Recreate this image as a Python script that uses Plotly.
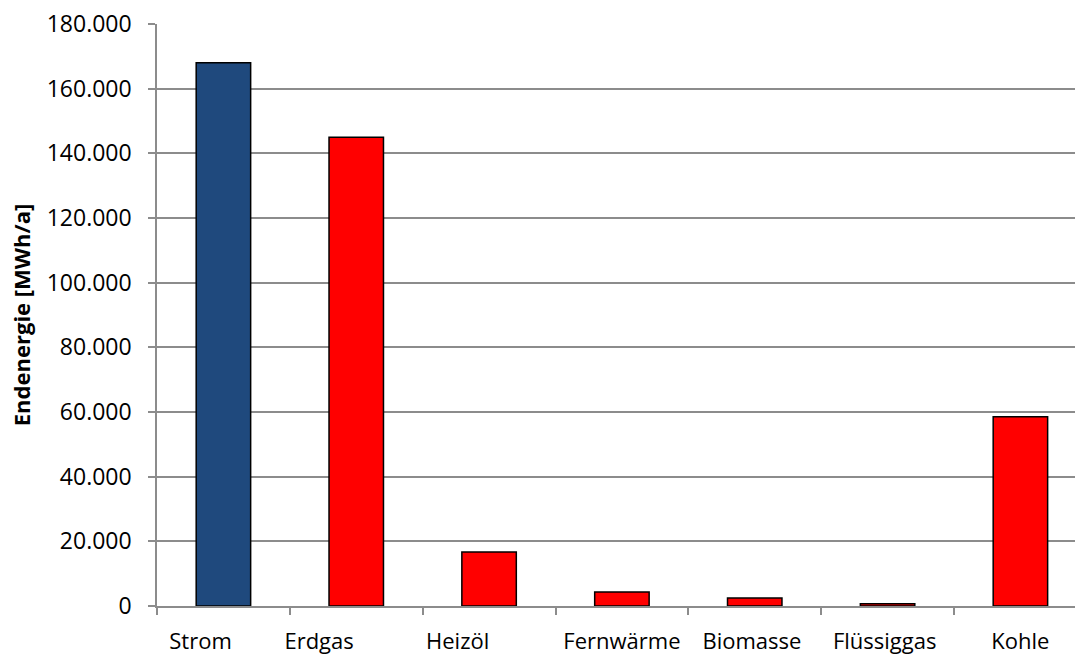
import plotly.graph_objects as go

categories = ["Strom", "Erdgas", "Heizöl", "Fernwärme", "Biomasse", "Flüssiggas", "Kohle"]
values = [168000, 145000, 16700, 4300, 2500, 700, 58500]
bar_colors = ["#1F497D", "#FF0000", "#FF0000", "#FF0000", "#FF0000", "#FF0000", "#FF0000"]
y_ticks = [0, 20000, 40000, 60000, 80000, 100000, 120000, 140000, 160000, 180000]

# trailing padding seen on the original category labels (in spaces)
label_pad = [8, 13, 11, 0, 1, 1, 0]

FONT = "Open Sans"
GRID = "#8C8C8C"

fig = go.Figure(
    go.Bar(
        x=categories,
        y=values,
        marker=dict(color=bar_colors, line=dict(color="#000000", width=1.5)),
        width=0.41,
    )
)

fig.update_layout(
    width=1075,
    height=655,
    margin=dict(l=157, r=0, t=24, b=49, autoexpand=False),
    paper_bgcolor="white",
    plot_bgcolor="white",
    separators=",.",
    showlegend=False,
    font=dict(family=FONT, size=22, color="#000000"),
)

tick_text = [c + "\u00a0" * p for c, p in zip(categories, label_pad)]

fig.update_xaxes(
    type="category",
    range=[-0.5, 6.411],
    tickson="boundaries",
    tickvals=categories,
    ticktext=tick_text,
    tickangle=0,
    automargin=False,
    ticks="outside",
    ticklen=7,
    tickwidth=1.5,
    tickcolor=GRID,
    showline=True,
    linecolor=GRID,
    linewidth=1.5,
    showgrid=False,
    tickfont=dict(family=FONT, size=22, color="#000000"),
    ticklabelstandoff=15,
)

fig.update_yaxes(
    range=[0, 180000],
    tickvals=y_ticks,
    tickformat=",.0f",
    automargin=False,
    ticks="outside",
    ticklen=7,
    tickwidth=1.5,
    tickcolor=GRID,
    showline=True,
    linecolor=GRID,
    linewidth=1.5,
    showgrid=True,
    gridcolor=GRID,
    gridwidth=1.5,
    zeroline=False,
    tickfont=dict(family=FONT, size=23, color="#000000"),
    ticklabelstandoff=12,
    title=dict(
        text="<b>Endenergie [MWh/a]</b>",
        font=dict(family=FONT, size=22, color="#000000"),
        standoff=10,
    ),
)

fig.write_html("out.html")
